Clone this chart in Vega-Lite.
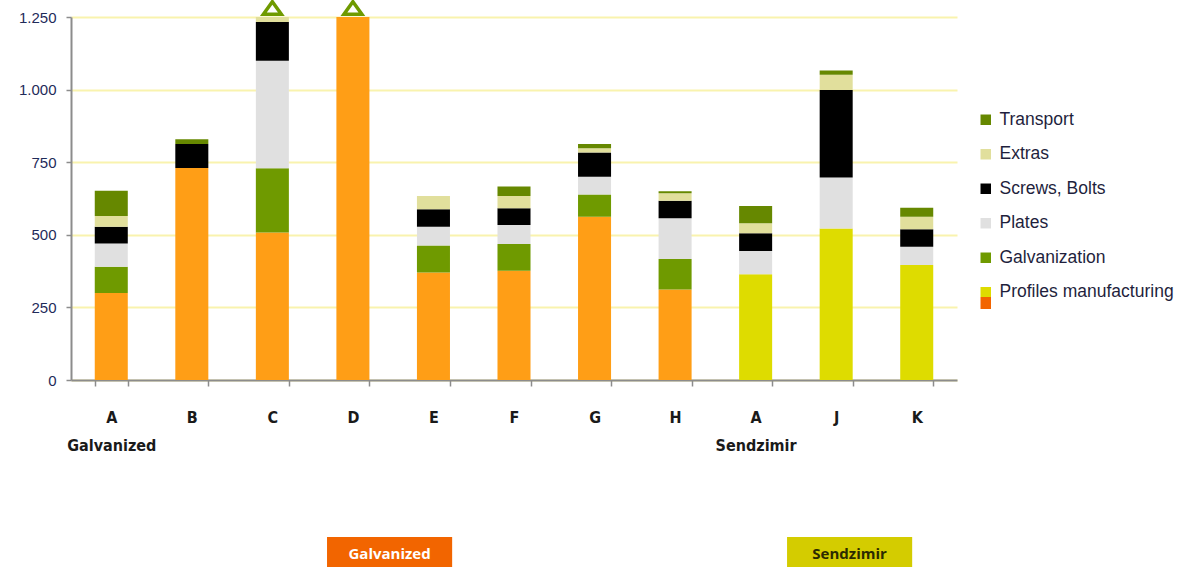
{
  "$schema": "https://vega.github.io/schema/vega-lite/v6.json",
  "background": "white",
  "padding": {"left": 18, "top": -6, "right": 18, "bottom": 0},
  "bounds": "flush",
  "spacing": 157,
  "config": {"view": {"stroke": null}},
  "resolve": {"scale": {"x": "independent"}},
  "datasets": {
    "costs": [
      {"bar": "A1", "group": "Galvanized", "component": "Profiles manufacturing", "k": 1, "value": 300},
      {"bar": "A1", "group": "Galvanized", "component": "Galvanization", "k": 2, "value": 90},
      {"bar": "A1", "group": "Galvanized", "component": "Plates", "k": 3, "value": 80},
      {"bar": "A1", "group": "Galvanized", "component": "Screws, Bolts", "k": 4, "value": 58},
      {"bar": "A1", "group": "Galvanized", "component": "Extras", "k": 5, "value": 37},
      {"bar": "A1", "group": "Galvanized", "component": "Transport", "k": 6, "value": 87},
      {"bar": "B", "group": "Galvanized", "component": "Profiles manufacturing", "k": 1, "value": 730},
      {"bar": "B", "group": "Galvanized", "component": "Screws, Bolts", "k": 4, "value": 83},
      {"bar": "B", "group": "Galvanized", "component": "Transport", "k": 6, "value": 16},
      {"bar": "C", "group": "Galvanized", "component": "Profiles manufacturing", "k": 1, "value": 508},
      {"bar": "C", "group": "Galvanized", "component": "Galvanization", "k": 2, "value": 221},
      {"bar": "C", "group": "Galvanized", "component": "Plates", "k": 3, "value": 370},
      {"bar": "C", "group": "Galvanized", "component": "Screws, Bolts", "k": 4, "value": 134},
      {"bar": "C", "group": "Galvanized", "component": "Extras", "k": 5, "value": 30},
      {"bar": "C", "group": "Galvanized", "component": "Transport", "k": 6, "value": 20},
      {"bar": "D", "group": "Galvanized", "component": "Profiles manufacturing", "k": 1, "value": 1300},
      {"bar": "E", "group": "Galvanized", "component": "Profiles manufacturing", "k": 1, "value": 370},
      {"bar": "E", "group": "Galvanized", "component": "Galvanization", "k": 2, "value": 93},
      {"bar": "E", "group": "Galvanized", "component": "Plates", "k": 3, "value": 65},
      {"bar": "E", "group": "Galvanized", "component": "Screws, Bolts", "k": 4, "value": 60},
      {"bar": "E", "group": "Galvanized", "component": "Extras", "k": 5, "value": 46},
      {"bar": "F", "group": "Galvanized", "component": "Profiles manufacturing", "k": 1, "value": 376},
      {"bar": "F", "group": "Galvanized", "component": "Galvanization", "k": 2, "value": 92},
      {"bar": "F", "group": "Galvanized", "component": "Plates", "k": 3, "value": 66},
      {"bar": "F", "group": "Galvanized", "component": "Screws, Bolts", "k": 4, "value": 57},
      {"bar": "F", "group": "Galvanized", "component": "Extras", "k": 5, "value": 43},
      {"bar": "F", "group": "Galvanized", "component": "Transport", "k": 6, "value": 32},
      {"bar": "G", "group": "Galvanized", "component": "Profiles manufacturing", "k": 1, "value": 562},
      {"bar": "G", "group": "Galvanized", "component": "Galvanization", "k": 2, "value": 77},
      {"bar": "G", "group": "Galvanized", "component": "Plates", "k": 3, "value": 61},
      {"bar": "G", "group": "Galvanized", "component": "Screws, Bolts", "k": 4, "value": 83},
      {"bar": "G", "group": "Galvanized", "component": "Extras", "k": 5, "value": 15},
      {"bar": "G", "group": "Galvanized", "component": "Transport", "k": 6, "value": 15},
      {"bar": "H", "group": "Galvanized", "component": "Profiles manufacturing", "k": 1, "value": 312},
      {"bar": "H", "group": "Galvanized", "component": "Galvanization", "k": 2, "value": 105},
      {"bar": "H", "group": "Galvanized", "component": "Plates", "k": 3, "value": 140},
      {"bar": "H", "group": "Galvanized", "component": "Screws, Bolts", "k": 4, "value": 60},
      {"bar": "H", "group": "Galvanized", "component": "Extras", "k": 5, "value": 26},
      {"bar": "H", "group": "Galvanized", "component": "Transport", "k": 6, "value": 7},
      {"bar": "A2", "group": "Sendzimir", "component": "Profiles manufacturing", "k": 1, "value": 364},
      {"bar": "A2", "group": "Sendzimir", "component": "Plates", "k": 3, "value": 80},
      {"bar": "A2", "group": "Sendzimir", "component": "Screws, Bolts", "k": 4, "value": 61},
      {"bar": "A2", "group": "Sendzimir", "component": "Extras", "k": 5, "value": 35},
      {"bar": "A2", "group": "Sendzimir", "component": "Transport", "k": 6, "value": 59},
      {"bar": "J", "group": "Sendzimir", "component": "Profiles manufacturing", "k": 1, "value": 522},
      {"bar": "J", "group": "Sendzimir", "component": "Plates", "k": 3, "value": 175},
      {"bar": "J", "group": "Sendzimir", "component": "Screws, Bolts", "k": 4, "value": 302},
      {"bar": "J", "group": "Sendzimir", "component": "Extras", "k": 5, "value": 52},
      {"bar": "J", "group": "Sendzimir", "component": "Transport", "k": 6, "value": 15},
      {"bar": "K", "group": "Sendzimir", "component": "Profiles manufacturing", "k": 1, "value": 396},
      {"bar": "K", "group": "Sendzimir", "component": "Plates", "k": 3, "value": 63},
      {"bar": "K", "group": "Sendzimir", "component": "Screws, Bolts", "k": 4, "value": 60},
      {"bar": "K", "group": "Sendzimir", "component": "Extras", "k": 5, "value": 43},
      {"bar": "K", "group": "Sendzimir", "component": "Transport", "k": 6, "value": 31}
    ],
    "groups": [
      {"group": "Galvanized"},
      {"group": "Sendzimir"}
    ]
  },
  "vconcat": [
    {
      "width": 886,
      "height": 363,
      "data": {"name": "costs"},
      "layer": [
        {
          "mark": {"type": "bar"},
          "encoding": {
            "x": {
              "field": "bar", "type": "nominal",
              "scale": {"domain": ["A1", "B", "C", "D", "E", "F", "G", "H", "A2", "J", "K"], "paddingInner": 0.59, "paddingOuter": 0.295},
              "axis": {
                "title": null,
                "labelExpr": "datum.value == 'A1' ? ['A', 'Galvanized'] : datum.value == 'A2' ? ['A', 'Sendzimir'] : datum.value",
                "tickBand": "extent",
                "labelAngle": 0,
                "domainColor": "#8C8C8C", "domainWidth": 2,
                "tickColor": "#8C8C8C", "tickSize": 6, "tickWidth": 1.5,
                "labelFont": "DejaVu Sans Condensed, Liberation Sans Narrow, DejaVu Sans, sans-serif", "labelFontWeight": "bold", "labelFontSize": 16,
                "labelColor": "#1a1a1a", "labelPadding": 23, "labelLineHeight": 28
              }
            },
            "y": {
              "field": "value", "type": "quantitative", "stack": "zero",
              "scale": {"domain": [0, 1250], "clamp": true, "nice": false},
              "axis": {
                "title": null,
                "values": [0, 250, 500, 750, 1000, 1250],
                "labelExpr": "replace(format(datum.value, ','), ',', '.')",
                "grid": true, "gridColor": "#F9F3AE", "gridWidth": 2,
                "domainColor": "#8C8C8C", "domainWidth": 2,
                "tickColor": "#8C8C8C", "tickSize": 5, "tickWidth": 1.5,
                "labelFont": "Liberation Sans", "labelFontSize": 15, "labelColor": "#1F2B5A", "labelPadding": 10
              }
            },
            "color": {
              "condition": [
                {"test": "datum.group === 'Sendzimir' && datum.component === 'Profiles manufacturing'", "value": "#DEDC00"},
                {"test": "datum.group === 'Galvanized' && datum.component === 'Profiles manufacturing'", "value": "#FF9E16"}
              ],
              "field": "component", "type": "nominal",
              "scale": {
                "domain": ["Transport", "Extras", "Screws, Bolts", "Plates", "Galvanization", "Profiles manufacturing"],
                "range": ["#668800", "#E1DF9C", "#000000", "#E0E0E0", "#6F9A00",
                  {"expr": "{gradient: 'linear', x1: 0, y1: 0, x2: 0, y2: 1, stops: [{offset: 0, color: '#DEDC00'}, {offset: 0.476, color: '#DEDC00'}, {offset: 0.476, color: '#F26500'}, {offset: 1, color: '#F26500'}]}"}]
              },
              "legend": {
                "orient": "none", "legendX": 906, "legendY": 94,
                "title": null,
                "symbolType": "square", "symbolSize": 110, "symbolStrokeWidth": 0,
                "labelFont": "Liberation Sans", "labelFontSize": 17.5, "labelColor": "#1F1F3D",
                "rowPadding": 15.5, "labelOffset": 5, "labelLimit": 300,
                "encode": {
                  "symbols": {
                    "update": {
                      "shape": [
                        {"test": "datum.value === 'Profiles manufacturing'", "value": "M-1,-1H1V3.2H-1Z"},
                        {"value": "square"}
                      ],
                      "opacity": {"value": 1}
                    }
                  }
                }
              }
            },
            "order": {"field": "k", "type": "quantitative"}
          }
        },
        {
          "transform": [
            {"aggregate": [{"op": "sum", "field": "value", "as": "total"}], "groupby": ["bar"]},
            {"filter": "datum.total > 1250"}
          ],
          "mark": {"type": "point", "shape": "M0,-0.7L1,0.7L-1,0.7Z", "size": 324, "filled": true, "fill": "white", "stroke": "#6F9A00", "strokeWidth": 3.5, "opacity": 1, "yOffset": -9},
          "encoding": {
            "x": {"field": "bar", "type": "nominal"},
            "y": {"datum": 1250}
          }
        }
      ]
    },
    {
      "width": 886,
      "height": 34,
      "data": {"name": "groups"},
      "encoding": {
        "x": {
          "field": "group", "type": "nominal",
          "scale": {"domain": ["Galvanized", "Sendzimir"], "paddingInner": 0.728, "paddingOuter": 0.327, "align": 0.851},
          "axis": null
        }
      },
      "layer": [
        {
          "mark": {"type": "bar"},
          "encoding": {
            "fill": {"condition": {"test": "datum.group === 'Sendzimir'", "value": "#D4CC00"}, "value": "#F26500"}
          }
        },
        {
          "mark": {"type": "text", "font": "Open Sans", "fontSize": 15, "fontWeight": "bold"},
          "encoding": {
            "text": {"field": "group"},
            "color": {"condition": {"test": "datum.group === 'Sendzimir'", "value": "#2B2B00"}, "value": "#FFFFFF"}
          }
        }
      ]
    }
  ]
}
